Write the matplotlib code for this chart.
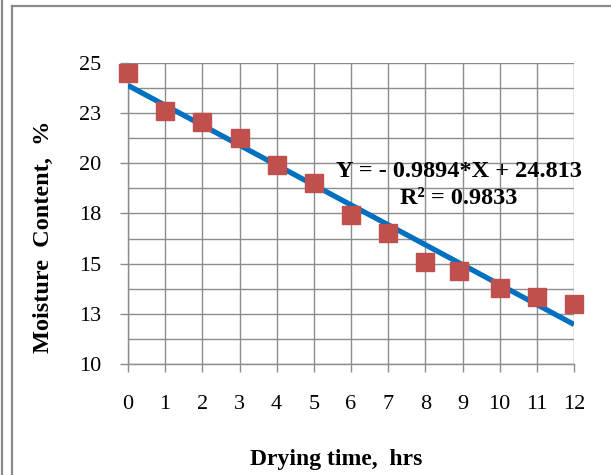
import numpy as np
import matplotlib.pyplot as plt
from matplotlib.lines import Line2D
from matplotlib.ticker import MultipleLocator

# Drying data
drying_time = [0, 1, 2, 3, 4, 5, 6, 7, 8, 8.9, 10, 11, 12]
moisture = [24.50, 22.61, 22.06, 21.24, 19.91, 19.03, 17.42, 16.51,
            15.10, 14.65, 13.78, 13.36, 12.98]
x_ticks = list(range(0, 13))
y_ticks = [10, 12.5, 15, 17.5, 20, 22.5, 25]
y_tick_labels = ['10', '13', '15', '18', '20', '23', '25']
equation_text = 'Y = - 0.9894*X + 24.813'
r2_text = 'R² = 0.9833'

W, H = 611, 475
plt.rcParams['font.family'] = ['Liberation Serif', 'DejaVu Serif']

fig = plt.figure(figsize=(W / 100, H / 100), dpi=100)
ax = fig.add_axes([128 / W, 1 - 364 / H, (574 - 128) / W, (364 - 63) / H])

grid_color = '#8c8c8c'

# Linear trend line fitted to the data
slope, intercept = np.polyfit(drying_time, moisture, 1)
x_line = np.array([0, 12])
ax.plot(x_line, slope * x_line + intercept, color='#0070C0', lw=3.8,
        solid_capstyle='butt', zorder=3)

ax.plot(drying_time, moisture, 's', color='#C0504D', ms=13.5, mec='#C0504D',
        zorder=4, clip_on=False)

ax.set_xlim(0, 12)
ax.set_ylim(10, 25)
ax.set_xticks(x_ticks)
ax.set_yticks(y_ticks)
ax.set_yticklabels(y_tick_labels)
ax.yaxis.set_minor_locator(MultipleLocator(1.25))

ax.grid(True, which='both', color=grid_color, lw=1)
ax.set_axisbelow(True)
for side in ['top', 'right']:
    ax.spines[side].set_visible(False)
for side in ['left', 'bottom']:
    ax.spines[side].set_color(grid_color)
    ax.spines[side].set_linewidth(1)

ax.tick_params(axis='both', which='major', labelsize=16, colors=grid_color,
               labelcolor='black', length=6, width=1)
ax.tick_params(axis='y', which='minor', length=0)
ax.tick_params(axis='y', pad=13)
ax.tick_params(axis='x', pad=16)

ax.text(8.9, 19.6, equation_text, fontsize=17.5, fontweight='bold',
        ha='center', va='center', zorder=5)
ax.text(8.9, 18.25, r2_text, fontsize=17.5, fontweight='bold',
        ha='center', va='center', zorder=5)

fig.text(43 / W, 1 - 237 / H, 'Moisture  Content,  %', rotation=90,
         fontsize=17.5, fontweight='bold', ha='center', va='center')
fig.text(336 / W, 1 - 460 / H, 'Drying time,  hrs', fontsize=17,
         fontweight='bold', ha='center', va='center')

# Outer frame lines
frame = '#8a8a8a'
fig.add_artist(Line2D([1.5 / W, 1.5 / W], [0, 1], color=frame, lw=1.6))
fig.add_artist(Line2D([12 / W, 12 / W], [0, 1 - 5.5 / H], color=frame, lw=1.6))
fig.add_artist(Line2D([12 / W, 1], [1 - 5.5 / H, 1 - 5.5 / H], color=frame, lw=1.6))

plt.savefig('out.png', dpi=100)
plt.close()
